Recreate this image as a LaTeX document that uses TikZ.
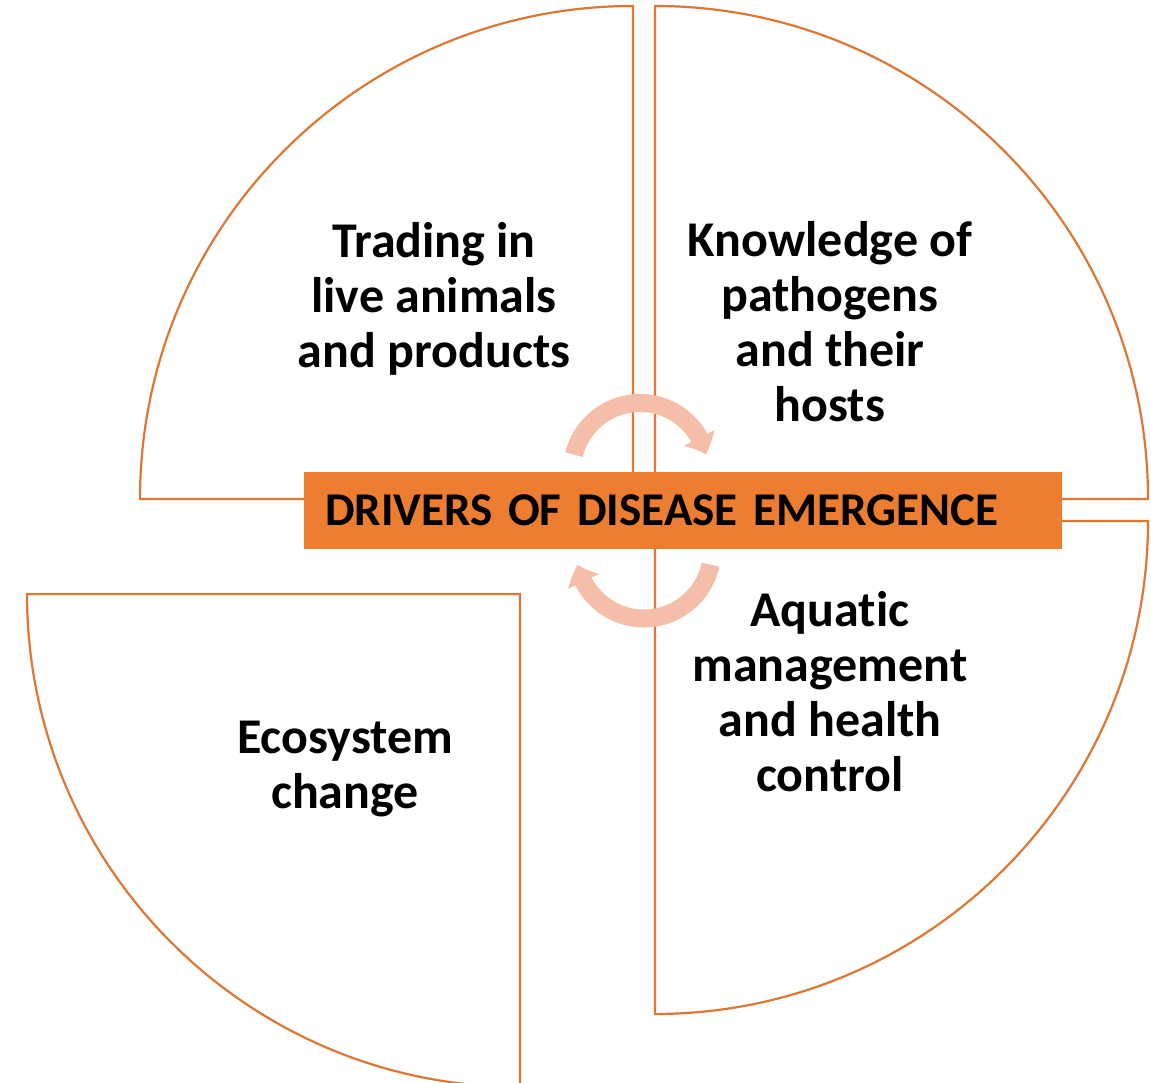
\documentclass[tikz,border=0pt]{standalone}
\usepackage{fontspec}
\setmainfont{Carlito}[Ligatures=NoCommon]
\usetikzlibrary{arrows.meta,bending}
\definecolor{drvorange}{HTML}{ED7D31}
\definecolor{drvline}{HTML}{DE7634}
\definecolor{drvarrow}{HTML}{F4BEA8}
\tikzset{
  quarter/.style={draw=drvline,line width=2.2pt,fill=white},
  driver/.style={font=\bfseries\fontsize{50}{55}\selectfont,align=center},
  cyclearrow/.style={drvarrow,line width=18pt,-{Triangle[length=18pt,width=33pt,bend]}}
}
\begin{document}
\begin{tikzpicture}[x=1pt,y=1pt]
\useasboundingbox (0,0) rectangle (1151,1083);
\clip (0,0) rectangle (1151,1083);
\draw[quarter] (633,584)--(140,584) arc[start angle=180,end angle=90,radius=493]--cycle;
\draw[quarter] (655,584)--(655,1077) arc[start angle=90,end angle=0,radius=493]--cycle;
\draw[quarter] (655,562)--(1148,562) arc[start angle=0,end angle=-90,radius=493]--cycle;
\draw[quarter] (520,489)--(27,489) arc[start angle=180,end angle=270,radius=493]--cycle;
\node[driver] (trade) at (434,784) {Trading in\\live animals\\and products};
\node[driver] (know) at (830,761) {Knowledge of\\pathogens\\and their\\hosts};
\node[driver] (aqua) at (830,391) {Aquatic\\management\\and health\\control};
\node[driver] (eco) at (345,314) {Ecosystem\\change};
\node[fill=drvorange,text width=716pt,inner xsep=21pt,minimum height=77pt,align=left,
  font=\bfseries\fontsize{47}{50}\selectfont] (banner) at (683,572.5) {DRIVERS OF DISEASE EMERGENCE};
\coordinate (upc) at (640,612);
\coordinate (lowc) at (644,532.5);
\draw[cyclearrow] (upc) ++(166:68) arc[start angle=166,end angle=14,radius=68];
\draw[cyclearrow] (lowc) ++(-12:68) arc[start angle=-12,end angle=-168,radius=68];
\end{tikzpicture}
\end{document}
